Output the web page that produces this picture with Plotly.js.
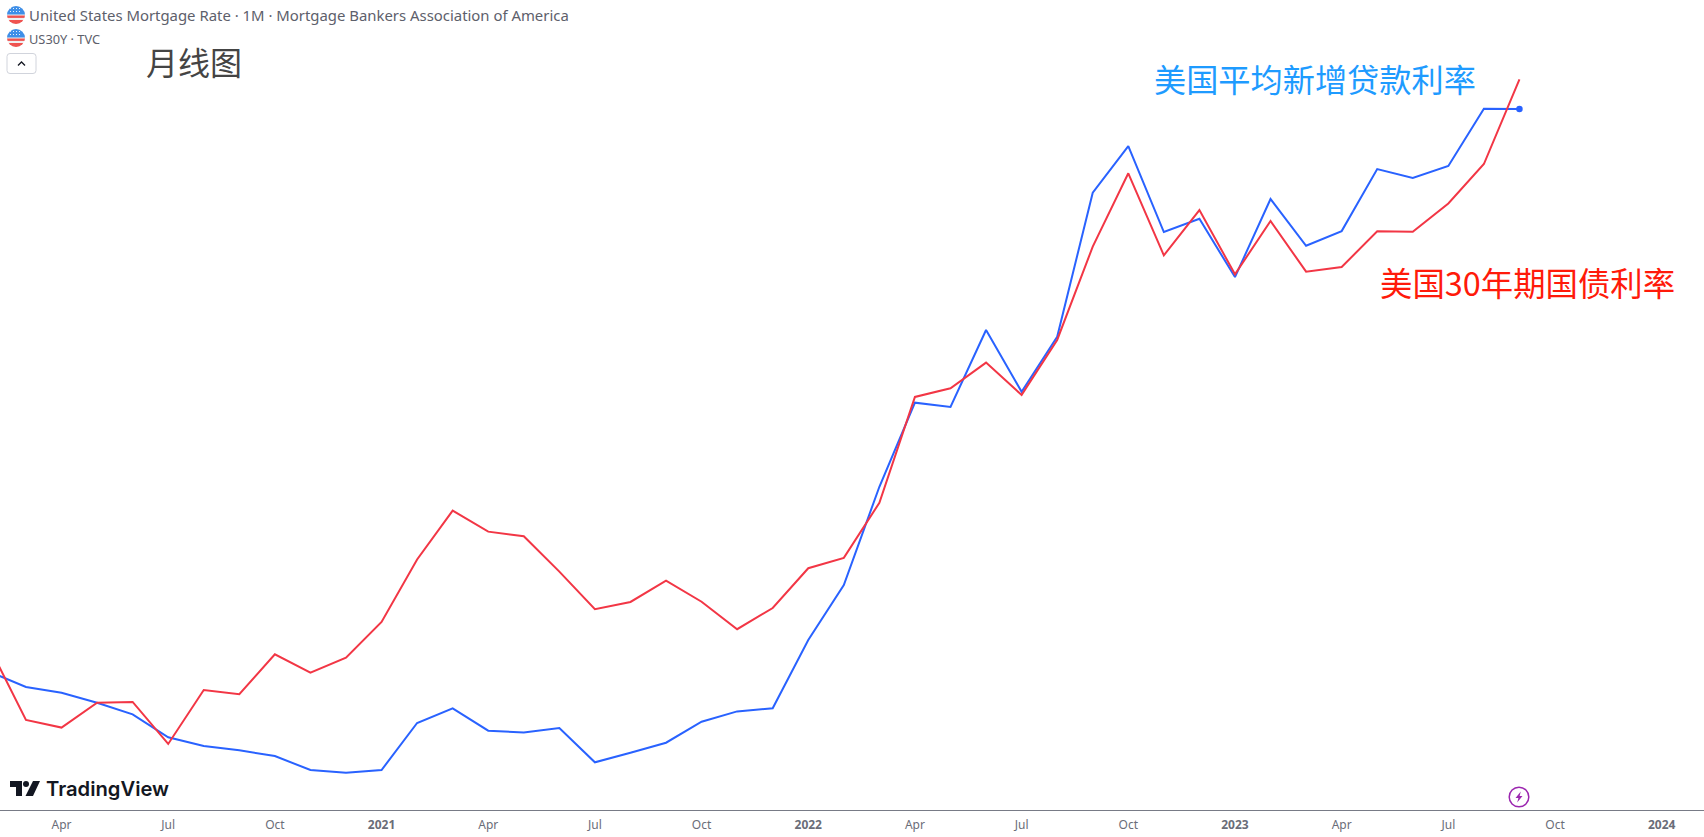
<!DOCTYPE html>
<html>
<head>
<meta charset="utf-8">
<script src="https://cdn.plot.ly/plotly-3.0.0.min.js"></script>
<style>html,body{margin:0;padding:0;background:#fff;overflow:hidden}#c{width:1704px;height:837px}</style>
</head>
<body>
<div id="c"></div>
<script>
const months = ["2020-02","2020-03","2020-04","2020-05","2020-06","2020-07","2020-08","2020-09","2020-10","2020-11","2020-12",
"2021-01","2021-02","2021-03","2021-04","2021-05","2021-06","2021-07","2021-08","2021-09","2021-10","2021-11","2021-12",
"2022-01","2022-02","2022-03","2022-04","2022-05","2022-06","2022-07","2022-08","2022-09","2022-10","2022-11","2022-12",
"2023-01","2023-02","2023-03","2023-04","2023-05","2023-06","2023-07","2023-08","2023-09"];
const mortgageRate = [3.564,3.467,3.430,3.365,3.290,3.141,3.085,3.057,3.020,2.929,2.912,
2.929,3.234,3.329,3.184,3.173,3.201,2.979,3.041,3.106,3.242,3.309,3.329,
3.772,4.128,4.765,5.310,5.282,5.781,5.381,5.737,6.671,6.973,6.416,6.502,
6.124,6.630,6.327,6.422,6.824,6.766,6.844,7.215,7.213];
const us30y = [1.880,1.529,1.491,1.614,1.618,1.410,1.677,1.656,1.854,1.763,1.837,
2.014,2.323,2.565,2.461,2.438,2.263,2.077,2.113,2.218,2.114,1.978,2.083,
2.280,2.331,2.604,3.128,3.171,3.298,3.138,3.410,3.872,4.235,3.829,4.053,
3.735,3.999,3.748,3.771,3.948,3.946,4.086,4.281,4.700];
const tickPositions = [2,5,8,11,14,17,20,23,26,29,32,35,38,41,44,47];
const tickLabels = ["Apr","Jul","Oct","<b>2021</b>","Apr","Jul","Oct","<b>2022</b>","Apr","Jul","Oct","<b>2023</b>","Apr","Jul","Oct","<b>2024</b>"];
const xIndex = months.map((m,i)=>i);

const W=1704, PH=810;
const px=x=>x/W, py=y=>1-y/PH;
const uiFont='"Noto Sans", "DejaVu Sans", sans-serif';
const cjk='"Noto Sans CJK SC", sans-serif';

const svgUri=s=>'data:image/svg+xml;utf8,'+encodeURIComponent(s);
const flag=svgUri('<svg xmlns="http://www.w3.org/2000/svg" viewBox="0 0 18 18"><defs><clipPath id="a"><circle cx="9" cy="9" r="9"/></clipPath></defs><g clip-path="url(#a)"><rect width="18" height="18" fill="#f0f0f0"/><rect y="9.5" width="18" height="2.4" fill="#ef5350"/><rect y="14" width="18" height="4" fill="#ef5350"/><rect y="0" width="18" height="8.5" fill="#3f8fe8"/><g fill="#e8f0fb"><rect x="3" y="2" width="1" height="1"/><rect x="6" y="2" width="1" height="1"/><rect x="9" y="2" width="1" height="1"/><rect x="12" y="2" width="1" height="1"/><rect x="3" y="5" width="1" height="1"/><rect x="6" y="5" width="1" height="1"/><rect x="9" y="5" width="1" height="1"/><rect x="12" y="5" width="1" height="1"/></g></g></svg>');
const logo=svgUri('<svg xmlns="http://www.w3.org/2000/svg" viewBox="0 0 30 15"><path fill="#131722" d="M0 0H12V15H6V6H0Z"/><circle cx="16" cy="3" r="3" fill="#131722"/><path fill="#131722" d="M23 0H30L23 15H15.5Z"/></svg>');
const bolt=svgUri('<svg xmlns="http://www.w3.org/2000/svg" viewBox="0 0 22 22"><circle cx="11" cy="11" r="9.8" fill="#fff" stroke="#9c27b0" stroke-width="1.5"/><path fill="#9c27b0" d="M12.8 5.5L7.5 12H10.4L9.2 16.5L14.5 10H11.6Z"/></svg>');
const img=(src,x,y,w,h)=>({source:src,xref:'paper',yref:'paper',x:px(x),y:py(y),sizex:w/W,sizey:h/PH,xanchor:'left',yanchor:'top',sizing:'stretch',layer:'above'});
const note=(text,x,y,size,color,family,weight)=>({text,x:px(x),y:py(y),xref:'paper',yref:'paper',xanchor:'left',yanchor:'middle',showarrow:false,font:{size,color,family,weight:weight||400}});

const traces=[
 {x:xIndex,y:us30y,type:'scatter',mode:'lines',yaxis:'y2',line:{color:'#f23645',width:2},hoverinfo:'skip'},
 {x:xIndex,y:mortgageRate,type:'scatter',mode:'lines',line:{color:'#2962ff',width:2},hoverinfo:'skip'},
 {x:xIndex.slice(-1),y:mortgageRate.slice(-1),type:'scatter',mode:'markers',marker:{color:'#2962ff',size:6.5},hoverinfo:'skip'}
];
const layout={
 width:W,height:837,margin:{l:0,r:0,t:0,b:27,pad:0},paper_bgcolor:'#fff',plot_bgcolor:'#fff',showlegend:false,
 xaxis:{range:[0.27,48.19],tickmode:'array',tickvals:tickPositions,ticktext:tickLabels,showgrid:false,zeroline:false,showline:true,linecolor:'#787b86',linewidth:1,ticks:'',ticklabelstandoff:4,
   tickfont:{family:uiFont,size:12,color:'#6a6d78'}},
 yaxis:{range:[2.67,7.92],visible:false,fixedrange:true},
 yaxis2:{range:[1.083,5.093],visible:false,overlaying:'y',fixedrange:true},
 images:[img(flag,7,6,18,18),img(flag,7,29,18,18),img(logo,10,781,30,15),img(bolt,1508,786,22,22)],
 shapes:[{type:'path',xref:'paper',yref:'paper',
   path:`M${px(10)},${py(53.5)} L${px(33)},${py(53.5)} Q${px(36)},${py(53.5)} ${px(36)},${py(56.5)} L${px(36)},${py(70.5)} Q${px(36)},${py(73.5)} ${px(33)},${py(73.5)} L${px(10)},${py(73.5)} Q${px(7)},${py(73.5)} ${px(7)},${py(70.5)} L${px(7)},${py(56.5)} Q${px(7)},${py(53.5)} ${px(10)},${py(53.5)} Z`,
   line:{color:'#d1d4dc',width:1},fillcolor:'#fff'},
  {type:'path',xref:'paper',yref:'paper',path:`M${px(18)},${py(65.5)} L${px(21.5)},${py(62)} L${px(25)},${py(65.5)}`,line:{color:'#131722',width:1.3}}],
 annotations:[
  note('United States Mortgage Rate · 1M · Mortgage Bankers Association of America',27,15,14.9,'#5d606b',uiFont),
  note('US30Y · TVC',27,39,12.8,'#5d606b',uiFont),
  note('月线图',144,61,32,'#444444',cjk),
  note('美国平均新增贷款利率',1152,78,32.2,'#1e9bff',cjk),
  note('美国30年期国债利率',1378,282,32.4,'#ff1a0a',cjk),
  note('TradingView',44,788,20.2,'#131722','Inter, "Noto Sans", sans-serif',600)
 ]
};
Plotly.newPlot('c',traces,layout,{displayModeBar:false,staticPlot:true});
</script>
</body>
</html>
